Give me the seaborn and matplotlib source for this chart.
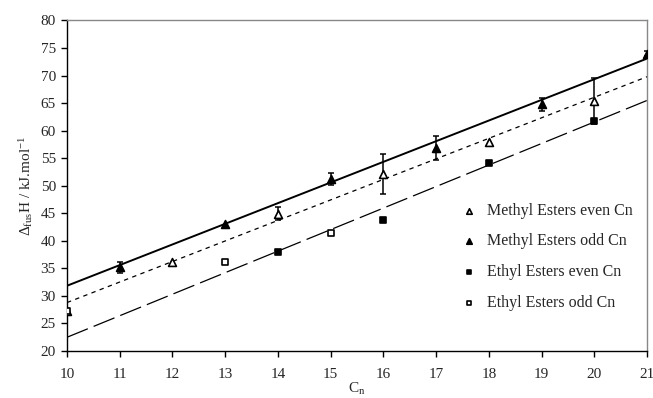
import numpy as np
import pandas as pd
import matplotlib
matplotlib.use("Agg")
import matplotlib.pyplot as plt
import seaborn as sns

# Enthalpy of fusion of fatty acid esters vs. carbon number
methyl_even_cn = [10, 12, 14, 16, 18, 20]
methyl_even_h = [27.3, 36.1, 44.9, 52.1, 58.0, 65.4]
methyl_even_err = [0.0, 0.0, 1.2, 3.6, 0.0, 4.1]

methyl_odd_cn = [11, 13, 15, 17, 19, 21]
methyl_odd_h = [35.2, 43.1, 51.3, 56.9, 64.8, 74.0]
methyl_odd_err = [0.95, 0.0, 1.1, 2.2, 1.2, 0.4]

ethyl_even_cn = [14, 16, 18, 20]
ethyl_even_h = [38.0, 43.7, 54.1, 61.7]

ethyl_odd_cn = [10, 13, 15]
ethyl_odd_h = [27.2, 36.2, 41.4]

# Linear trend lines: value at Cn = 10 and at Cn = 21
trend_cn = [10, 21]
trend_methyl_odd = [31.85, 73.1]
trend_methyl_even = [28.8, 69.8]
trend_ethyl = [22.5, 65.5]

sns.set_theme(style="ticks")
plt.rcParams["font.family"] = ["Liberation Serif", "DejaVu Serif"]
plt.rcParams["mathtext.fontset"] = "custom"
plt.rcParams["mathtext.rm"] = "Liberation Serif"
plt.rcParams["mathtext.it"] = "Liberation Serif:italic"

fig = plt.figure(figsize=(6.53, 3.98), dpi=100)
ax = fig.add_axes([0.1026, 0.118, 0.8885, 0.8305])

# trend lines
sns.lineplot(x=trend_cn, y=trend_methyl_odd, ax=ax, color="black", lw=1.4)
sns.lineplot(x=trend_cn, y=trend_methyl_even, ax=ax, color="black", lw=0.9,
             dashes=False).lines[-1].set_dashes([3.5, 3.5])
sns.lineplot(x=trend_cn, y=trend_ethyl, ax=ax, color="black", lw=0.9,
             dashes=False).lines[-1].set_dashes([18, 5])

# error bars
me_err = np.array(methyl_even_err)
mo_err = np.array(methyl_odd_err)
ax.errorbar(methyl_even_cn, methyl_even_h, yerr=np.where(me_err > 0, me_err, np.nan),
            fmt="none", ecolor="black", elinewidth=1.1, capsize=2.5, capthick=1.1)
ax.errorbar(methyl_odd_cn, methyl_odd_h, yerr=np.where(mo_err > 0, mo_err, np.nan),
            fmt="none", ecolor="black", elinewidth=1.1, capsize=2.5, capthick=1.1)

# data points
pts = pd.concat([
    pd.DataFrame({"cn": methyl_even_cn, "h": methyl_even_h, "s": "Methyl Esters even Cn"}),
    pd.DataFrame({"cn": methyl_odd_cn, "h": methyl_odd_h, "s": "Methyl Esters odd Cn"}),
    pd.DataFrame({"cn": ethyl_even_cn, "h": ethyl_even_h, "s": "Ethyl Esters even Cn"}),
    pd.DataFrame({"cn": ethyl_odd_cn, "h": ethyl_odd_h, "s": "Ethyl Esters odd Cn"}),
])
styles = {
    "Methyl Esters even Cn": dict(marker="^", facecolor="white", size=32),
    "Methyl Esters odd Cn": dict(marker="^", facecolor="black", size=32),
    "Ethyl Esters even Cn": dict(marker="s", facecolor="black", size=20),
    "Ethyl Esters odd Cn": dict(marker="s", facecolor="white", size=20),
}
for name, st in styles.items():
    sub = pts[pts["s"] == name]
    sns.scatterplot(data=sub, x="cn", y="h", ax=ax, marker=st["marker"],
                    s=st["size"], facecolor=st["facecolor"], edgecolor="black",
                    linewidth=1.2, label=name, zorder=5)

ax.set_xlim(10, 21)
ax.set_ylim(20, 80)
ax.set_xticks(range(10, 22))
ax.set_yticks(range(20, 81, 5))
ax.tick_params(axis="both", labelsize=11, length=4, width=1, color="black",
               direction="out", pad=4)
ax.tick_params(axis="x", pad=8)
for side in ("left", "bottom"):
    ax.spines[side].set_color("black")
    ax.spines[side].set_linewidth(1.0)
for side in ("top", "right"):
    ax.spines[side].set_visible(True)
    ax.spines[side].set_color("#888888")
    ax.spines[side].set_linewidth(1.0)

ax.set_xlabel(r"C$_\mathrm{n}$", fontsize=11, labelpad=0)
ax.set_ylabel(r"$\Delta_{\rm fus}$H / kJ.mol$^{-1}$", fontsize=11, labelpad=4)

leg = ax.legend(loc="center left", bbox_to_anchor=(0.655, 0.285), frameon=False,
                fontsize=11.5, handletextpad=0.6, labelspacing=0.92,
                markerscale=0.7, handlelength=1.0)

fig.savefig("out.png", dpi=100)
